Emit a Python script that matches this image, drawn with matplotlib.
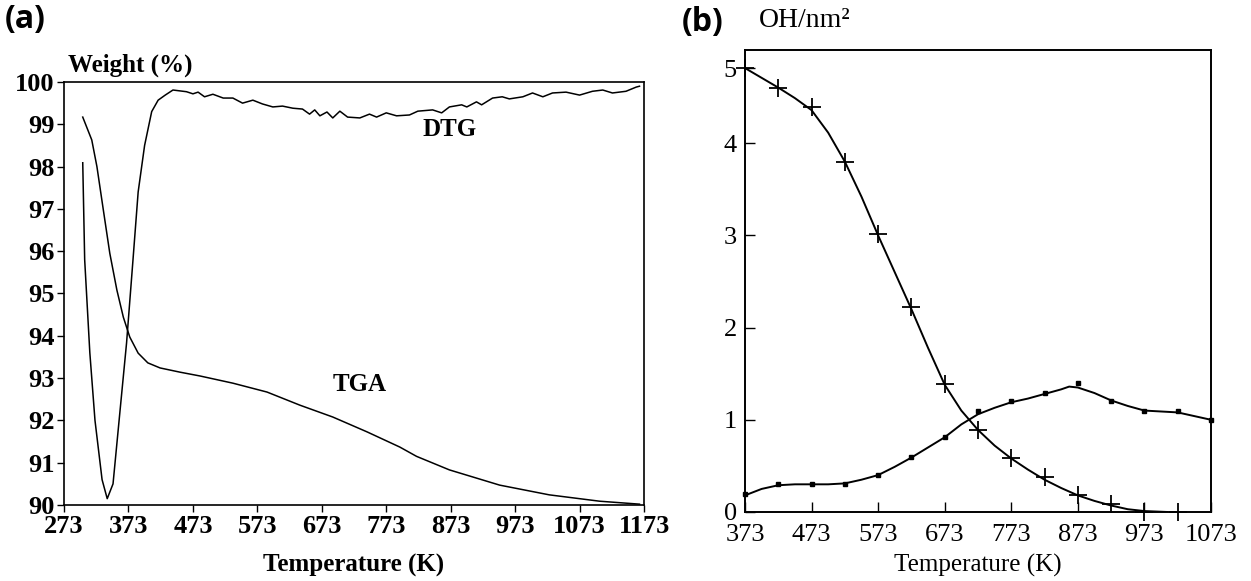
import numpy as np
import matplotlib.pyplot as plt

# ---- panel (a): TGA / DTG, temperature in K, weight in %
tga_T = [302, 316, 324, 334, 344, 355, 365, 375, 388, 403, 422, 453, 484, 535,
         588, 639, 690, 743, 794, 820, 871, 949, 1026, 1104, 1166]
tga_w = [99.17, 98.63, 98.0, 96.97, 95.95, 95.08, 94.44, 93.97, 93.59, 93.36, 93.24,
         93.14, 93.05, 92.88, 92.67, 92.36, 92.08, 91.73, 91.37, 91.15, 90.83, 90.47,
         90.24, 90.09, 90.02]

dtg_T = [302, 305, 313, 321, 332, 340, 349, 360, 370, 380, 388, 398, 409, 419, 430,
         442, 463, 473, 481, 491, 504, 520, 535, 550, 566, 581, 597, 612, 628, 643,
         654, 662, 670, 681, 690, 701, 713, 732, 747, 758, 773, 789, 809, 822, 845,
         859, 871, 890, 898, 913, 921, 938, 953, 964, 985, 1000, 1016, 1031, 1052,
         1073, 1093, 1109, 1124, 1145, 1161, 1166]
dtg_w = [98.09, 95.8, 93.6, 92.0, 90.6, 90.15, 90.5, 92.25, 93.83, 95.8, 97.4, 98.5,
         99.3, 99.57, 99.69, 99.81, 99.77, 99.72, 99.76, 99.65, 99.71, 99.62, 99.62,
         99.50, 99.57, 99.48, 99.41, 99.43, 99.38, 99.36, 99.24, 99.34, 99.20, 99.29,
         99.15, 99.31, 99.17, 99.15, 99.24, 99.17, 99.27, 99.20, 99.22, 99.31, 99.34,
         99.27, 99.41, 99.46, 99.41, 99.53, 99.46, 99.62, 99.65, 99.60, 99.65, 99.74,
         99.65, 99.74, 99.76, 99.69, 99.78, 99.81, 99.74, 99.78, 99.88, 99.90]

a_xticks = [273, 373, 473, 573, 673, 773, 873, 973, 1073, 1173]
a_yticks = [90, 91, 92, 93, 94, 95, 96, 97, 98, 99, 100]

# ---- panel (b): OH/nm2 vs temperature
plus_T = [373, 423, 473, 523, 573, 623, 673, 723, 773, 823, 873, 923, 973, 1023]
plus_v = [5.0, 4.73, 4.48, 3.80, 3.01, 2.22, 1.39, 0.89, 0.59, 0.38, 0.18, 0.09, 0.0, 0.0]
plus_fit_T = [373, 398, 423, 448, 473, 498, 523, 548, 573, 598, 623, 648, 673, 698,
              723, 748, 773, 798, 823, 848, 873, 898, 923, 948, 973, 1007]
plus_fit_v = [5.0, 4.87, 4.74, 4.60, 4.44, 4.14, 3.80, 3.42, 3.0, 2.6, 2.2, 1.78, 1.38,
              1.10, 0.89, 0.72, 0.58, 0.46, 0.35, 0.26, 0.18, 0.12, 0.07, 0.03, 0.01, 0.0]

dot_T = [373, 423, 473, 523, 573, 623, 673, 723, 773, 823, 873, 923, 973, 1023, 1073]
dot_v = [0.20, 0.30, 0.30, 0.30, 0.40, 0.60, 0.81, 1.09, 1.20, 1.29, 1.40, 1.20, 1.10, 1.09, 1.0]
dot_fit_T = [373, 398, 423, 448, 473, 498, 523, 548, 573, 598, 623, 648, 673, 698, 723,
             748, 773, 798, 823, 848, 860, 873, 898, 923, 948, 973, 998, 1023, 1048, 1073]
dot_fit_v = [0.18, 0.25, 0.29, 0.30, 0.30, 0.30, 0.31, 0.35, 0.40, 0.49, 0.59, 0.70, 0.81,
             0.95, 1.06, 1.13, 1.19, 1.23, 1.28, 1.33, 1.36, 1.35, 1.29, 1.21, 1.15, 1.10,
             1.09, 1.08, 1.04, 1.0]

b_xticks = [373, 473, 573, 673, 773, 873, 973, 1073]
b_yticks = [0, 1, 2, 3, 4, 5]

serif = ['Liberation Serif', 'DejaVu Serif']
plt.rcParams['font.family'] = serif

fig = plt.figure(figsize=(12.51, 5.81), dpi=100)

# (a)
ax1 = fig.add_axes([0.0512, 0.1308, 0.4636, 0.7281])
ax1.plot(tga_T, tga_w, color='black', lw=1.1)
ax1.plot(dtg_T, dtg_w, color='black', lw=1.1)
ax1.set_xlim(273, 1173)
ax1.set_ylim(90, 100)
ax1.set_xticks(a_xticks)
ax1.set_yticks(a_yticks)
ax1.tick_params(direction='out', length=5, width=1, labelsize=19, pad=2)
for lab in ax1.get_xticklabels() + ax1.get_yticklabels():
    lab.set_fontweight('bold')
ax1.set_xlabel('Temperature (K)', fontsize=18, fontweight='bold', labelpad=12)
ax1.text(273 + 6, 100.12, 'Weight (%)', fontsize=18, fontweight='bold',
         ha='left', va='bottom')
ax1.text(871, 98.87, 'DTG', fontsize=18, fontweight='bold', ha='center', va='center')
ax1.text(732, 92.84, 'TGA', fontsize=18, fontweight='bold', ha='center', va='center')
for sp in ax1.spines.values():
    sp.set_linewidth(1.2)


# (b): y axis is compressed between 4 and 5 in the original scan
def fwd(y):
    y = np.asarray(y, dtype=float)
    return np.where(y <= 4, y, 4 + (y - 4) * 0.815)


def inv(y):
    y = np.asarray(y, dtype=float)
    return np.where(y <= 4, y, 4 + (y - 4) / 0.815)


ax2 = fig.add_axes([0.5955, 0.1188, 0.3725, 0.7951])
ax2.set_yscale('function', functions=(fwd, inv))
ax2.plot(plus_fit_T, plus_fit_v, color='black', lw=1.4)
ax2.plot(plus_T, plus_v, ls='none', marker='+', ms=13, mew=1.3, color='black',
         clip_on=False)
ax2.plot(dot_fit_T, dot_fit_v, color='black', lw=1.4)
ax2.plot(dot_T, dot_v, ls='none', marker='s', ms=3.5, color='black', clip_on=False)
ax2.set_xlim(373, 1073)
ax2.set_ylim(0, 5.24)
ax2.set_xticks(b_xticks)
ax2.set_yticks(b_yticks)
ax2.tick_params(direction='in', length=7, width=1, labelsize=19)
ax2.tick_params(axis='x', pad=9)
ax2.tick_params(axis='y', pad=6)
ax2.set_xlabel('Temperature (K)', fontsize=18, labelpad=5)
for sp in ax2.spines.values():
    sp.set_linewidth(1.4)

fig.text(0.004, 0.966, '(a)', fontsize=23, fontweight='bold', ha='left', va='center',
         family=['Open Sans', 'DejaVu Sans'])
fig.text(0.545, 0.962, '(b)', fontsize=23, fontweight='bold', ha='left', va='center',
         family=['Open Sans', 'DejaVu Sans'])
fig.text(0.607, 0.965, 'OH/nm²', fontsize=20, ha='left', va='center')

fig.savefig('out.png', dpi=100)
